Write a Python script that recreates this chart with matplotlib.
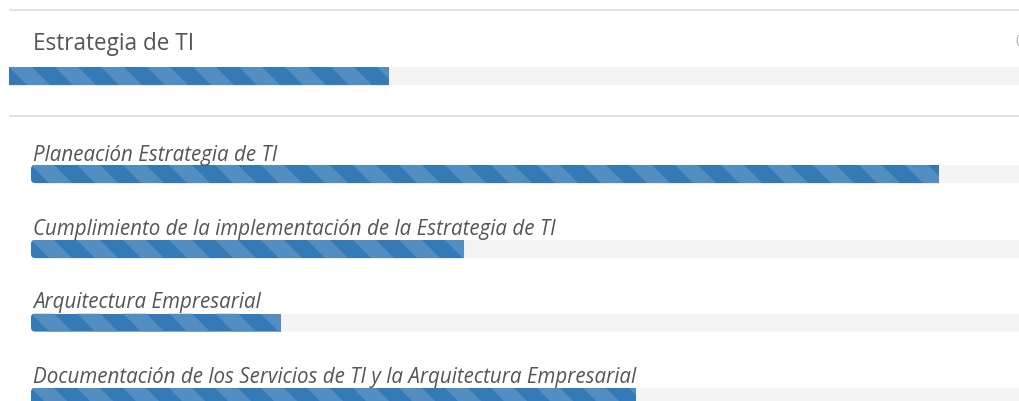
import matplotlib
matplotlib.use("Agg")
import matplotlib.pyplot as plt
from matplotlib.patches import FancyBboxPatch, Polygon

# ---------------- data ----------------
title = "Estrategia de TI"
main_value = 37.2          # percent of the main track
categories = [
    "Planeación Estrategia de TI",
    "Cumplimiento de la implementación de la Estrategia de TI",
    "Arquitectura Empresarial",
    "Documentación de los Servicios de TI y la Arquitectura Empresarial",
]
values = [90.8, 43.3, 25.0, 60.5]   # percent of each sub track

# ---------------- layout / style ----------------
W, H = 1020, 402
DARK = "#337ab7"
LIGHT = "#528ec2"
TRACK = "#f4f4f4"
LINE = "#e2e2e2"
TEXT = "#555555"
PERIOD = 46.0
BAR_H = 18.0

fig = plt.figure(figsize=(W / 100, H / 100), dpi=100)
ax = fig.add_axes([0, 0, 1, 1])
ax.set_xlim(0, W)
ax.set_ylim(H, 0)
ax.axis("off")
renderer = fig.canvas.get_renderer()


def clip_x(poly, xe):
    """Clip polygon to half plane x <= xe."""
    out = []
    n = len(poly)
    for i in range(n):
        p, q = poly[i], poly[(i + 1) % n]
        pin, qin = p[0] <= xe, q[0] <= xe
        if pin:
            out.append(p)
        if pin != qin:
            t = (xe - p[0]) / (q[0] - p[0])
            out.append((xe, p[1] + t * (q[1] - p[1])))
    return out


def progress(x0, yc, track_w, value, radius):
    ytop = yc - BAR_H / 2
    if radius > 0:
        style = f"round,pad=0,rounding_size={radius}"
    else:
        style = "square,pad=0"
    track = FancyBboxPatch((x0, ytop), track_w, BAR_H, boxstyle=style,
                           fc=TRACK, ec="none", zorder=1)
    ax.add_patch(track)
    fill_w = value * track_w / 100.0
    bars = ax.barh([yc], [fill_w], left=x0, height=BAR_H, color=DARK,
                   zorder=2)
    bars[0].set_clip_path(track)
    xe = x0 + fill_w
    k = -1
    while x0 + k * PERIOD < xe:
        a = x0 + k * PERIOD
        poly = [(a, ytop), (a + PERIOD / 2, ytop),
                (a + PERIOD / 2 + BAR_H, ytop + BAR_H), (a + BAR_H, ytop + BAR_H)]
        poly = clip_x(poly, xe)
        if len(poly) >= 3:
            pg = Polygon(poly, closed=True, fc=LIGHT, ec="none", zorder=3)
            ax.add_patch(pg)
            pg.set_clip_path(track)
        k += 1
    ax.plot([x0 + radius, xe], [ytop + BAR_H - 0.5] * 2, color="black",
            alpha=0.08, lw=0.75, zorder=4, solid_capstyle="butt")


def fitted_size(s, target_w, size0, **kw):
    t = ax.text(0, 0, s, fontsize=size0, **kw)
    w = t.get_window_extent(renderer=renderer).width
    t.remove()
    return size0 * target_w / w


# separator lines
for yl in (11, 117):
    ax.plot([9, W], [yl, yl], color=LINE, lw=1.4, zorder=1,
            solid_capstyle="butt")

# title
title_size = fitted_size(title, 162, 14, family="Open Sans")
ax.text(33, 44, title, fontsize=title_size, family="Open Sans", color=TEXT,
        va="center", ha="left")
ax.text(1016, 40, "(", fontsize=9, family="Open Sans", color="#aaaaaa",
        va="center", ha="left")

progress(9, 77, 1022, main_value, 0)

label_y = [156, 230, 303, 378]
bar_y = [175, 250, 323.5, 398]
lab_size = fitted_size(categories[-1], 604, 12, family="Open Sans",
                       style="italic")
for lab, v, ly, by in zip(categories, values, label_y, bar_y):
    ax.text(33, ly, lab, fontsize=lab_size, family="Open Sans",
            style="italic", color=TEXT, va="center", ha="left")
    progress(31, by, 1000, v, 4)

fig.savefig("out.png", dpi=100)
